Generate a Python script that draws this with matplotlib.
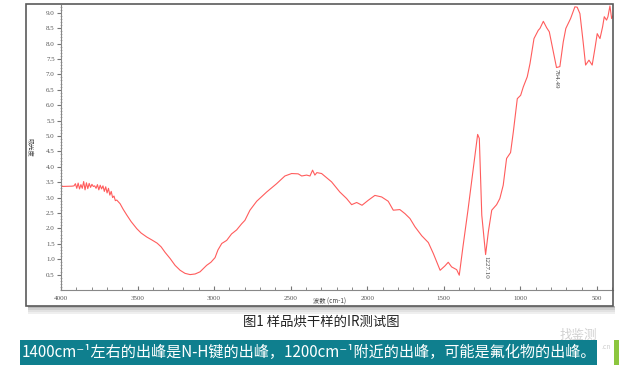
# -*- coding: utf-8 -*-

# 样品烘干样的IR测试图 复现

import matplotlib
matplotlib.use('Agg')
import matplotlib.pyplot as plt
from matplotlib.patches import Rectangle
from matplotlib.ticker import MultipleLocator

plt.rcParams['font.family'] = ['Noto Sans CJK SC', 'DejaVu Sans']

# 波数 (cm-1)
wavenumber = [4000, 3928,
              3915, 3906, 3897, 3888, 3879, 3870, 3861, 3852, 3843, 3834,
              3825, 3816, 3807, 3798, 3789, 3780, 3771, 3762, 3753, 3744,
              3735, 3726, 3717, 3708, 3699, 3690, 3681, 3672, 3663, 3654,
              3645, 3636,
              3614, 3594, 3570, 3542, 3505, 3477, 3440, 3405, 3372, 3346,
              3320, 3287, 3255, 3222, 3190, 3157, 3124, 3092, 3049, 3021,
              2994, 2975, 2950, 2918, 2886, 2853, 2820, 2799, 2766, 2722,
              2657, 2592, 2538, 2494, 2451, 2428, 2396, 2374, 2357, 2342,
              2329, 2298, 2233, 2179, 2135, 2102, 2069, 2034, 1994, 1950,
              1906, 1863, 1830, 1787, 1754, 1721, 1688, 1644, 1601, 1568,
              1524, 1493, 1471, 1449, 1416, 1399, 1375, 1342, 1310, 1279,
              1268, 1252, 1227, 1209, 1187, 1155, 1134, 1112, 1090, 1064,
              1046, 1020, 998, 981, 955, 937, 911, 883, 872, 850,
              828, 811, 785, 764, 742, 720, 703, 672, 644, 629,
              611, 590, 574, 552, 531, 513, 498, 480, 463, 452,
              437, 428, 415, 404, 395]

# 吸光度
absorbance = [3.36, 3.37,
              3.38, 3.45, 3.30, 3.47, 3.28, 3.42, 3.30, 3.52, 3.25, 3.48,
              3.29, 3.46, 3.33, 3.43, 3.36, 3.38, 3.30, 3.42, 3.25, 3.40,
              3.28, 3.38, 3.20, 3.35, 3.15, 3.30, 3.08, 3.20, 3.00, 3.05,
              2.90, 2.92,
              2.80, 2.62, 2.43, 2.22, 1.99, 1.85, 1.72, 1.62, 1.52, 1.40,
              1.22, 1.02, 0.80, 0.64, 0.54, 0.50, 0.52, 0.59, 0.80, 0.90,
              1.05, 1.30, 1.51, 1.61, 1.82, 1.95, 2.15, 2.26, 2.59, 2.88,
              3.18, 3.45, 3.70, 3.78, 3.77, 3.70, 3.73, 3.70, 3.89, 3.73,
              3.81, 3.78, 3.51, 3.18, 2.97, 2.77, 2.84, 2.75, 2.91, 3.07,
              3.02, 2.88, 2.59, 2.61, 2.48, 2.32, 2.05, 1.76, 1.54, 1.18,
              0.64, 0.78, 0.90, 0.75, 0.66, 0.48, 1.40, 2.60, 3.85, 5.05,
              4.92, 2.43, 1.15, 1.89, 2.59, 2.77, 2.97, 3.40, 4.27, 4.46,
              5.13, 6.21, 6.32, 6.59, 6.92, 7.35, 8.16, 8.43, 8.49, 8.72,
              8.51, 8.38, 7.73, 7.22, 7.25, 8.05, 8.49, 8.81, 9.19, 9.18,
              8.97, 8.05, 7.30, 7.46, 7.30, 7.84, 8.32, 8.16, 8.54, 8.87,
              8.76, 8.87, 9.22, 8.81, 8.90]

# 峰标注
peak_labels = ['1227.10', '764.49']
peak_x = [1227, 764]
peak_y = [1.15, 7.22]

x_ticks = [4000, 3500, 3000, 2500, 2000, 1500, 1000, 500]
y_ticks = [0.5, 1.0, 1.5, 2.0, 2.5, 3.0, 3.5, 4.0, 4.5,
           5.0, 5.5, 6.0, 6.5, 7.0, 7.5, 8.0, 8.5, 9.0]

caption = '图1 样品烘干样的IR测试图'
note = '1400cm⁻¹左右的出峰是N-H键的出峰，1200cm⁻¹附近的出峰，可能是氟化物的出峰。'

W, H = 619, 367


def fx(px):
    return px / W


def fy(py):
    return 1 - py / H


fig = plt.figure(figsize=(W / 100, H / 100), dpi=100)
fig.patch.set_facecolor('white')

# 外框阴影
for i, c in enumerate(['#b8b8b8', '#cfcfcf', '#e2e2e2', '#efefef']):
    fig.add_artist(Rectangle((fx(28), fy(306 + 2 * (i + 1))), fx(587), 2 / H,
                             transform=fig.transFigure, facecolor=c,
                             edgecolor='none', zorder=0))

# 坐标轴
ax = fig.add_axes([fx(61), fy(290), fx(613 - 61), (290 - 5) / H])
ax.plot(wavenumber, absorbance, color='#ff5c5c', lw=0.8)
ax.set_xlim(4000, 395)
ax.set_ylim(0, 9.25)
ax.set_xticks(x_ticks)
ax.set_yticks(y_ticks)
ax.xaxis.set_minor_locator(MultipleLocator(100))
ax.yaxis.set_minor_locator(MultipleLocator(0.1))
ax.set_xticklabels([str(t) for t in x_ticks], family='Liberation Serif',
                   fontsize=5, color='#555555')
ax.set_yticklabels(['%.1f' % t for t in y_ticks], family='Liberation Serif',
                   fontsize=5, color='#555555')
ax.tick_params(axis='x', which='major', direction='in', length=3,
               color='#777777', pad=4)
ax.tick_params(axis='x', which='minor', direction='in', length=2,
               color='#777777')
ax.tick_params(axis='y', which='major', direction='out', length=3,
               color='#777777', pad=1.5)
ax.tick_params(axis='y', which='minor', direction='inout', length=1.5,
               color='#999999', width=0.5)
for s in ['top', 'right']:
    ax.spines[s].set_visible(False)
for s in ['left', 'bottom']:
    ax.spines[s].set_color('#888888')
    ax.spines[s].set_linewidth(0.8)

# 峰位标注
for lab, x, y in zip(peak_labels, peak_x, peak_y):
    ax.text(x, y - 0.05, lab, rotation=-90, ha='center', va='top',
            family='Liberation Serif', fontsize=5, color='#444444')

# 坐标轴标题
fig.text(fx(330), fy(302), '波数 (cm-1)', ha='center', va='center',
         fontsize=4.5, color='#444444')
fig.text(fx(30), fy(147), '吸光度', rotation=-90, ha='center', va='center',
         fontsize=4.5, color='#444444')

# 外框
fig.add_artist(Rectangle((fx(26), fy(306)), fx(613 - 26), (306 - 4) / H,
                         transform=fig.transFigure, fill=False,
                         edgecolor='#5a5a5a', lw=1.2, zorder=5))

# 图题
fig.text(fx(321), fy(322), caption, ha='center', va='center',
         fontsize=9.6, color='#222222')

# 下方说明条
fig.add_artist(Rectangle((fx(20), fy(365)), fx(597 - 20), 25 / H,
                         transform=fig.transFigure, facecolor='#0f7f8e',
                         edgecolor='none', zorder=1))
fig.add_artist(Rectangle((fx(614), fy(365)), fx(5), 25 / H,
                         transform=fig.transFigure, facecolor='#8cc63e',
                         edgecolor='none', zorder=1))
fig.text(fx(22), fy(352.5), note, ha='left', va='center', fontsize=10.9,
         color='white', zorder=3)

# 水印
fig.text(fx(578), fy(335), '找鉴测', ha='center', va='center', fontsize=9,
         color='#c8c8c8', alpha=0.85, zorder=4)
fig.text(fx(606), fy(347), '.cn', ha='center', va='center', fontsize=5,
         color='#c8c8c8', alpha=0.85, zorder=4)

fig.savefig('out.png', dpi=100)
